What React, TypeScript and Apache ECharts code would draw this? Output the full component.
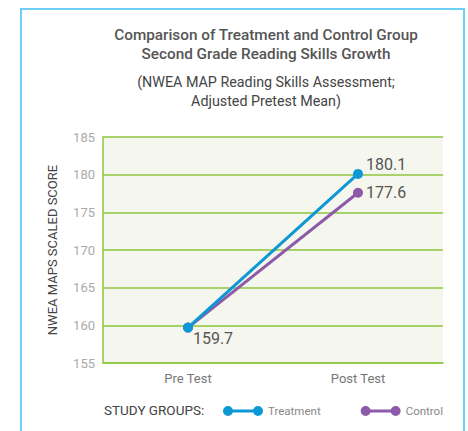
import React, { useEffect, useRef } from "react";
import * as echarts from "echarts";

const categories = ["Pre Test", "Post Test"];
const treatment = [159.7, 180.1];
const control = [159.7, 177.6];
const yMin = 155;
const yMax = 185;
const yStep = 5;

const FONT = "Roboto, 'Noto Sans', sans-serif";
const dumbbell =
  "path://M0,5a5,5 0 1,1 10,0a5,5 0 1,1 -10,0Z M5,3.5h30v3h-30Z M30,5a5,5 0 1,1 10,0a5,5 0 1,1 -10,0Z";

export default function App() {
  const ref = useRef<HTMLDivElement>(null);
  useEffect(() => {
    const chart = echarts.init(ref.current!, null, { renderer: "svg" });
    chart.setOption({
      animation: false,
      backgroundColor: "#ffffff",
      textStyle: { fontFamily: FONT },
      title: {
        text: "Comparison of Treatment and Control Group\nSecond Grade Reading Skills Growth",
        subtext: "(NWEA MAP Reading Skills Assessment;\nAdjusted Pretest Mean)",
        left: 261,
        textAlign: "center",
        top: 20,
        itemGap: 9,
        textStyle: { fontFamily: FONT, fontSize: 15.3, fontWeight: 500, color: "#555555", lineHeight: 19 },
        subtextStyle: { fontFamily: FONT, fontSize: 14.3, color: "#444444", lineHeight: 19 },
      },
      graphic: [
        {
          type: "rect",
          shape: { x: 21, y: 9, width: 443, height: 440 },
          style: { fill: "none", stroke: "#6dcff6", lineWidth: 2 },
          silent: true,
        },
        {
          type: "text",
          x: 104,
          y: 410,
          style: {
            text: "STUDY GROUPS:",
            fontFamily: FONT,
            fontSize: 13.5,
            fill: "#444444",
            verticalAlign: "middle",
          },
        },
      ],
      legend: {
        left: 223,
        top: 405,
        padding: 0,
        itemWidth: 40,
        itemHeight: 10,
        itemGap: 40,
        textStyle: { fontFamily: FONT, fontSize: 11.5, color: "#888888" },
        data: [
          { name: "Treatment", icon: dumbbell },
          { name: "Control", icon: dumbbell },
        ],
      },
      grid: { left: 103, right: 25, top: 137, bottom: 68, show: true, backgroundColor: "#f5f7ee", borderWidth: 0 },
      xAxis: {
        type: "category",
        data: categories,
        boundaryGap: true,
        axisLine: { show: true, lineStyle: { color: "#8dc63f", width: 1.5 } },
        axisTick: { show: false },
        axisLabel: { color: "#777777", fontSize: 13, margin: 9, fontFamily: FONT },
      },
      yAxis: {
        type: "value",
        min: yMin,
        max: yMax,
        interval: yStep,
        name: "NWEA MAPS SCALED SCORE",
        nameLocation: "middle",
        nameRotate: 90,
        nameGap: 44,
        nameTextStyle: { color: "#444444", fontSize: 13, fontFamily: FONT },
        axisLine: { show: true, lineStyle: { color: "#8dc63f", width: 1.5 } },
        axisTick: { show: false },
        axisLabel: { color: "#aaaaaa", fontSize: 13, margin: 8, fontFamily: FONT },
        splitLine: { show: true, lineStyle: { color: "#8dc63f", width: 1.5 } },
      },
      series: [
        {
          name: "Control",
          type: "line",
          data: control.map((v, i) => ({
            value: v,
            label:
              i === 0
                ? { show: false }
                : { show: true, position: "right", distance: 3 },
          })),
          color: "#8c5aa8",
          lineStyle: { width: 3, color: "#8c5aa8" },
          symbol: "circle",
          symbolSize: 10,
          z: 2,
          label: { fontFamily: FONT, fontSize: 16, color: "#555555" },
        },
        {
          name: "Treatment",
          type: "line",
          data: treatment.map((v, i) => ({
            value: v,
            label:
              i === 0
                ? { show: true, position: "bottom", distance: 0, offset: [25, -2] }
                : { show: true, position: "right", distance: 3, offset: [0, -9] },
          })),
          color: "#0d97d5",
          lineStyle: { width: 3, color: "#0d97d5" },
          symbol: "circle",
          symbolSize: 10,
          z: 3,
          label: { fontFamily: FONT, fontSize: 16, color: "#555555" },
        },
      ],
    });
    return () => chart.dispose();
  }, []);
  return (
    <div
      ref={ref}
      style={{ position: "fixed", left: 0, top: 0, width: 468, height: 431 }}
    />
  );
}
